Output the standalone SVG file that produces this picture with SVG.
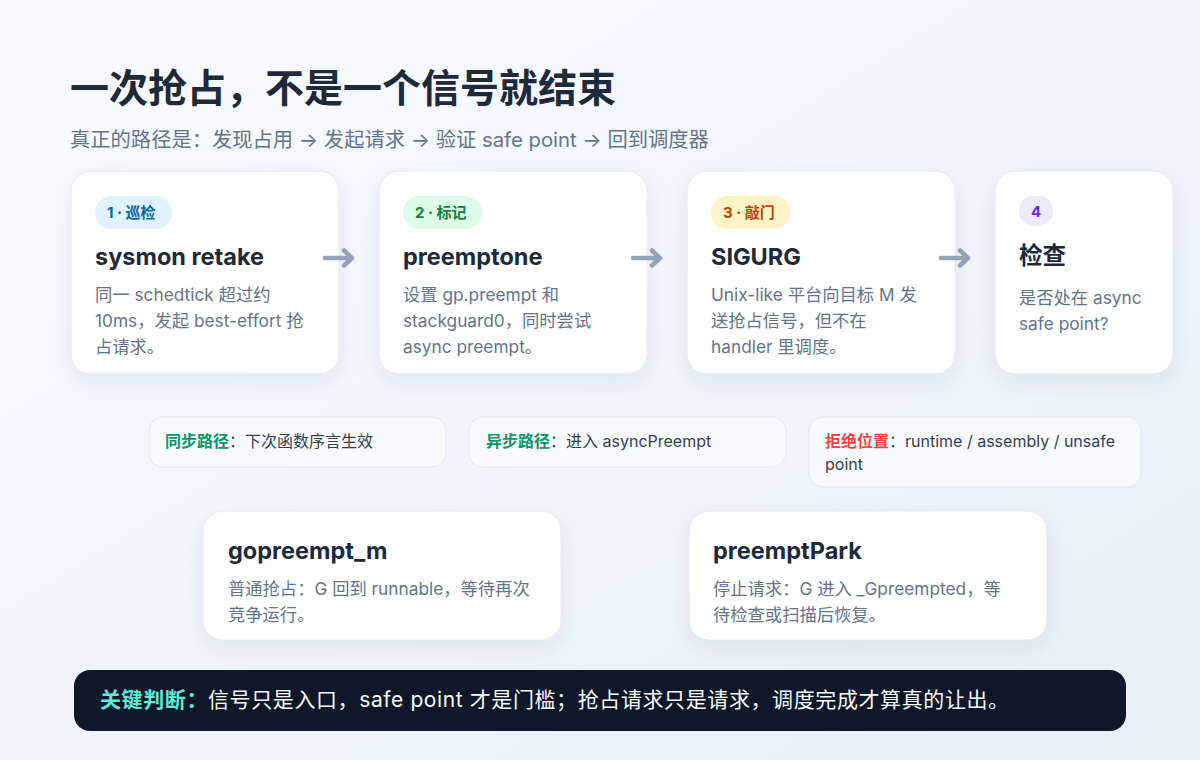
<svg xmlns="http://www.w3.org/2000/svg" width="1200" height="760" viewBox="0 0 1200 760">
<defs>
<linearGradient id="bg" x1="0" y1="0" x2="1" y2="1">
<stop offset="0" stop-color="#f9fbfe"/>
<stop offset="1" stop-color="#eaeff8"/>
</linearGradient>
<filter id="sh" x="-20%" y="-20%" width="140%" height="150%">
<feDropShadow dx="0" dy="8" stdDeviation="10" flood-color="#1e3a5f" flood-opacity="0.08"/>
</filter>
<style>
text{font-family:Inter,"Noto Sans CJK SC",sans-serif}
.card{fill:#ffffff;stroke:#e2e8f0;stroke-width:1;filter:url(#sh)}
.pill{fill:#f8fafc;stroke:#e2e8f0;stroke-width:1}
.h{font-size:23.5px;font-weight:700;fill:#1e293b}
.b{font-size:17.3px;fill:#64748b}
.bd{font-size:15px;font-weight:700}
.p{font-size:16px;fill:#334155}
.arr{stroke:#94a3b8;stroke-width:4.5;stroke-linecap:round;stroke-linejoin:round;fill:none}
</style>
</defs>
<rect width="1200" height="760" fill="url(#bg)"/>
<text x="70" y="102" font-size="39" font-weight="700" fill="#1e293b">一次抢占，不是一个信号就结束</text>
<text x="70" y="147" font-size="20.3" fill="#64748b">真正的路径是：发现占用 → 发起请求 → 验证 safe point → 回到调度器</text>

<g id="node-sysmon">
<rect class="card" x="71" y="171" width="268" height="203" rx="20"/>
<rect x="95" y="196" width="77" height="33" rx="16.5" fill="#e0f2fe"/>
<text class="bd" x="107" y="218" fill="#0369a1">1 · 巡检</text>
<text class="h" x="95" y="265">sysmon retake</text>
<text class="b" x="95" y="301">同一 schedtick 超过约</text>
<text class="b" x="95" y="327">10ms，发起 best-effort 抢</text>
<text class="b" x="95" y="353">占请求。</text>
</g>
<g id="node-preemptone">
<rect class="card" x="379" y="171" width="268" height="203" rx="20"/>
<rect x="403" y="196" width="79" height="33" rx="16.5" fill="#dcfce7"/>
<text class="bd" x="415" y="218" fill="#15803d">2 · 标记</text>
<text class="h" x="403" y="265">preemptone</text>
<text class="b" x="403" y="301">设置 gp.preempt 和</text>
<text class="b" x="403" y="327">stackguard0，同时尝试</text>
<text class="b" x="403" y="353">async preempt。</text>
</g>
<g id="node-sigurg">
<rect class="card" x="687" y="171" width="268" height="203" rx="20"/>
<rect x="711" y="196" width="79" height="33" rx="16.5" fill="#fef3c7"/>
<text class="bd" x="723" y="218" fill="#c2410c">3 · 敲门</text>
<text class="h" x="711" y="265">SIGURG</text>
<text class="b" x="711" y="301">Unix-like 平台向目标 M 发</text>
<text class="b" x="711" y="327">送抢占信号，但不在</text>
<text class="b" x="711" y="353">handler 里调度。</text>
</g>
<g id="node-check">
<rect class="card" x="995" y="171" width="178" height="203" rx="20"/>
<rect x="1019" y="196" width="34" height="30" rx="15" fill="#ede9fe"/>
<text class="bd" x="1036" y="216.5" fill="#6d28d9" text-anchor="middle">4</text>
<text class="h" x="1019" y="264">检查</text>
<text class="b" x="1019" y="304">是否处在 async</text>
<text class="b" x="1019" y="330">safe point?</text>
</g>

<g id="connectors">
<path class="arr" d="M325,258 H351 M344,250.5 L352,258 L344,265.5"/>
<path class="arr" d="M633,258 H659 M652,250.5 L660,258 L652,265.5"/>
<path class="arr" d="M941,258 H967 M960,250.5 L968,258 L960,265.5"/>
</g>

<g id="note-sync">
<rect class="pill" x="149" y="417" width="297" height="50" rx="14"/>
<text class="p" x="165" y="447"><tspan font-weight="700" fill="#059669">同步路径</tspan>：下次函数序言生效</text>
</g>
<g id="note-async">
<rect class="pill" x="469" y="417" width="317" height="50" rx="14"/>
<text class="p" x="486" y="447"><tspan font-weight="700" fill="#059669">异步路径</tspan>：进入 asyncPreempt</text>
</g>
<g id="note-reject">
<rect class="pill" x="809" y="417" width="332" height="70" rx="14"/>
<text class="p" x="825" y="447"><tspan font-weight="700" fill="#ef4444">拒绝位置</tspan>：runtime / assembly / unsafe</text>
<text class="p" x="825" y="470">point</text>
</g>

<g id="node-gopreempt">
<rect class="card" x="203" y="511" width="358" height="129" rx="20"/>
<text class="h" x="228" y="559">gopreempt_m</text>
<text class="b" x="228" y="595">普通抢占：G 回到 runnable，等待再次</text>
<text class="b" x="228" y="621">竞争运行。</text>
</g>
<g id="node-preemptpark">
<rect class="card" x="689" y="511" width="358" height="129" rx="20"/>
<text class="h" x="713" y="559">preemptPark</text>
<text class="b" x="713" y="595">停止请求：G 进入 _Gpreempted，等</text>
<text class="b" x="713" y="621">待检查或扫描后恢复。</text>
</g>

<g id="banner">
<rect x="74" y="670" width="1052" height="61" rx="16" fill="#0f172a"/>
<text x="100" y="707" font-size="21" letter-spacing="0.6" fill="#f8fafc"><tspan font-weight="700" fill="#5eead4">关键判断：</tspan>信号只是入口，safe point 才是门槛；抢占请求只是请求，调度完成才算真的让出。</text>
</g>
</svg>
